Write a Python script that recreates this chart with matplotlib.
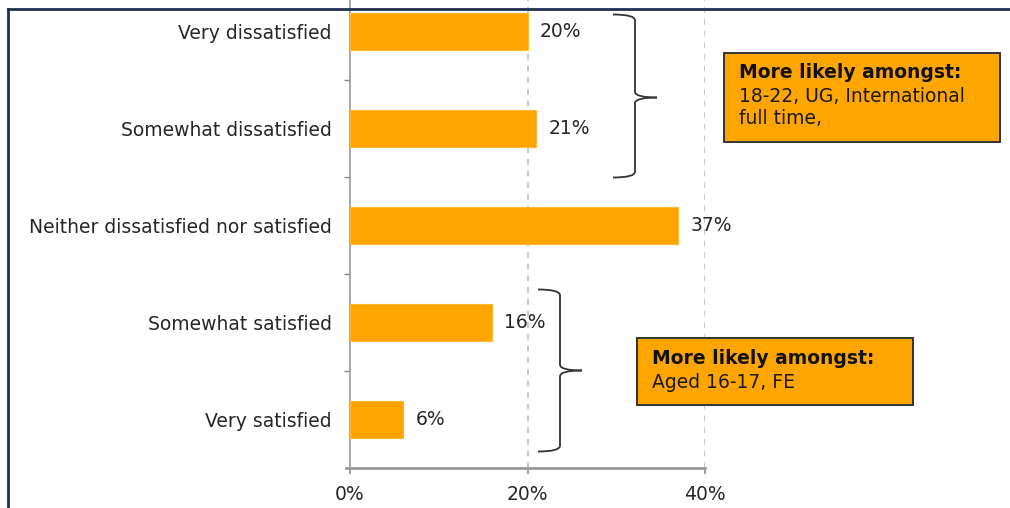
import matplotlib
matplotlib.use("Agg")
import matplotlib.pyplot as plt
from matplotlib.path import Path
from matplotlib.patches import PathPatch, Rectangle
from matplotlib.lines import Line2D

categories = ["Very dissatisfied", "Somewhat dissatisfied",
              "Neither dissatisfied nor satisfied", "Somewhat satisfied",
              "Very satisfied"]
values = [20, 21, 37, 16, 6]
xticks = [0, 20, 40]
xtick_labels = ["0%", "20%", "40%"]
box1_title = "More likely amongst:"
box1_lines = ["18-22, UG, International", "full time,"]
box2_title = "More likely amongst:"
box2_lines = ["Aged 16-17, FE"]

W, H = 1010, 508
fig = plt.figure(figsize=(W / 100, H / 100), dpi=100)
fig.patch.set_facecolor("white")

def fx(px):
    return px / W

def fy(py):
    return 1 - py / H

ax = fig.add_axes([fx(350), fy(468), fx(705) - fx(350), (468 + 17) / H])
ypos = list(range(len(categories)))
ax.barh(ypos, values, height=0.39, color="#FFA500", edgecolor="#FFB733",
        linewidth=0.8, zorder=3)
ax.set_xlim(0, 40)
ax.set_ylim(4.5, -0.5)

text_col = "#262626"
fs = 13.5
for y, v in zip(ypos, values):
    ax.text(v + 1.4, y, f"{v}%", va="center", ha="left", fontsize=fs,
            color=text_col, zorder=4)

ax.set_yticks(ypos)
ax.set_yticklabels(categories, fontsize=fs, color=text_col)
ax.tick_params(axis="y", which="major", length=0, pad=13)
ax.set_yticks([0.5, 1.5, 2.5, 3.5], minor=True)
ax.tick_params(axis="y", which="minor", length=4, color="#888888", width=1)

ax.set_xticks(xticks)
ax.set_xticklabels(xtick_labels, fontsize=fs, color=text_col)
ax.tick_params(axis="x", length=4.5, color="#999999", width=1.3, pad=8)

for s in ["top", "right"]:
    ax.spines[s].set_visible(False)
ax.spines["left"].set_color("#999999")
ax.spines["left"].set_linewidth(1.2)
ax.spines["bottom"].set_color("#999999")
ax.spines["bottom"].set_linewidth(2)
ax.spines["bottom"].set_bounds(-0.4, 40)

for xv in xticks[1:]:
    ax.axvline(xv, color="#B4C0C4", linestyle=(0, (3.5, 3.5)), linewidth=1.2,
               zorder=1)

def px2x(px):
    return (px - 350) / (705 - 350) * 40

def py2y(py):
    return (py - 31) / 97

def simple_brace(x0p, xvp, xtp, ytp, ymp, ybp):
    x0, xv, xt = px2x(x0p), px2x(xvp), px2x(xtp)
    yt, ym, yb = py2y(ytp), py2y(ymp), py2y(ybp)
    ry = 0.06
    segs = [
        ([(x0, yt), (xv, yt), (xv, yt + ry)],
         [Path.MOVETO, Path.CURVE3, Path.CURVE3]),
        ([(xv, yt + ry), (xv, ym - ry)], [Path.MOVETO, Path.LINETO]),
        ([(xv, ym - ry), (xv, ym), (xt, ym)],
         [Path.MOVETO, Path.CURVE3, Path.CURVE3]),
        ([(xt, ym), (xv, ym), (xv, ym + ry)],
         [Path.MOVETO, Path.CURVE3, Path.CURVE3]),
        ([(xv, ym + ry), (xv, yb - ry)], [Path.MOVETO, Path.LINETO]),
        ([(xv, yb - ry), (xv, yb), (x0, yb)],
         [Path.MOVETO, Path.CURVE3, Path.CURVE3]),
    ]
    for v, c in segs:
        ax.add_patch(PathPatch(Path(v, c), fill=False, edgecolor="#333333",
                               linewidth=1.3, clip_on=False, zorder=5))

simple_brace(613, 635, 657, 14, 97, 177)
simple_brace(538, 560, 582, 289, 370, 451)

def note_box(x0p, y0p, x1p, y1p, title, lines):
    fig.patches.append(Rectangle((fx(x0p), fy(y1p)), fx(x1p) - fx(x0p),
                                 fy(y0p) - fy(y1p), transform=fig.transFigure,
                                 facecolor="#FFA500", edgecolor="#333333",
                                 linewidth=1.4, zorder=6))
    tx = fx(x0p + 15)
    fig.text(tx, fy(y0p + 20), title, fontsize=fs, fontweight="bold",
             color="#111111", va="center", ha="left", zorder=7)
    for i, ln in enumerate(lines):
        fig.text(tx, fy(y0p + 44 + 22 * i), ln, fontsize=fs,
                 color="#1a1a1a", va="center", ha="left", zorder=7)

note_box(724, 53, 1000, 142, box1_title, box1_lines)
note_box(637, 338, 913, 405, box2_title, box2_lines)

frame_col = "#1F3050"
fig.add_artist(Line2D([fx(8), fx(8)], [fy(9), 0], transform=fig.transFigure,
                      color=frame_col, linewidth=2))
fig.add_artist(Line2D([fx(8), 1], [fy(9), fy(9)], transform=fig.transFigure,
                      color=frame_col, linewidth=2))

fig.savefig("out.png", dpi=100)
